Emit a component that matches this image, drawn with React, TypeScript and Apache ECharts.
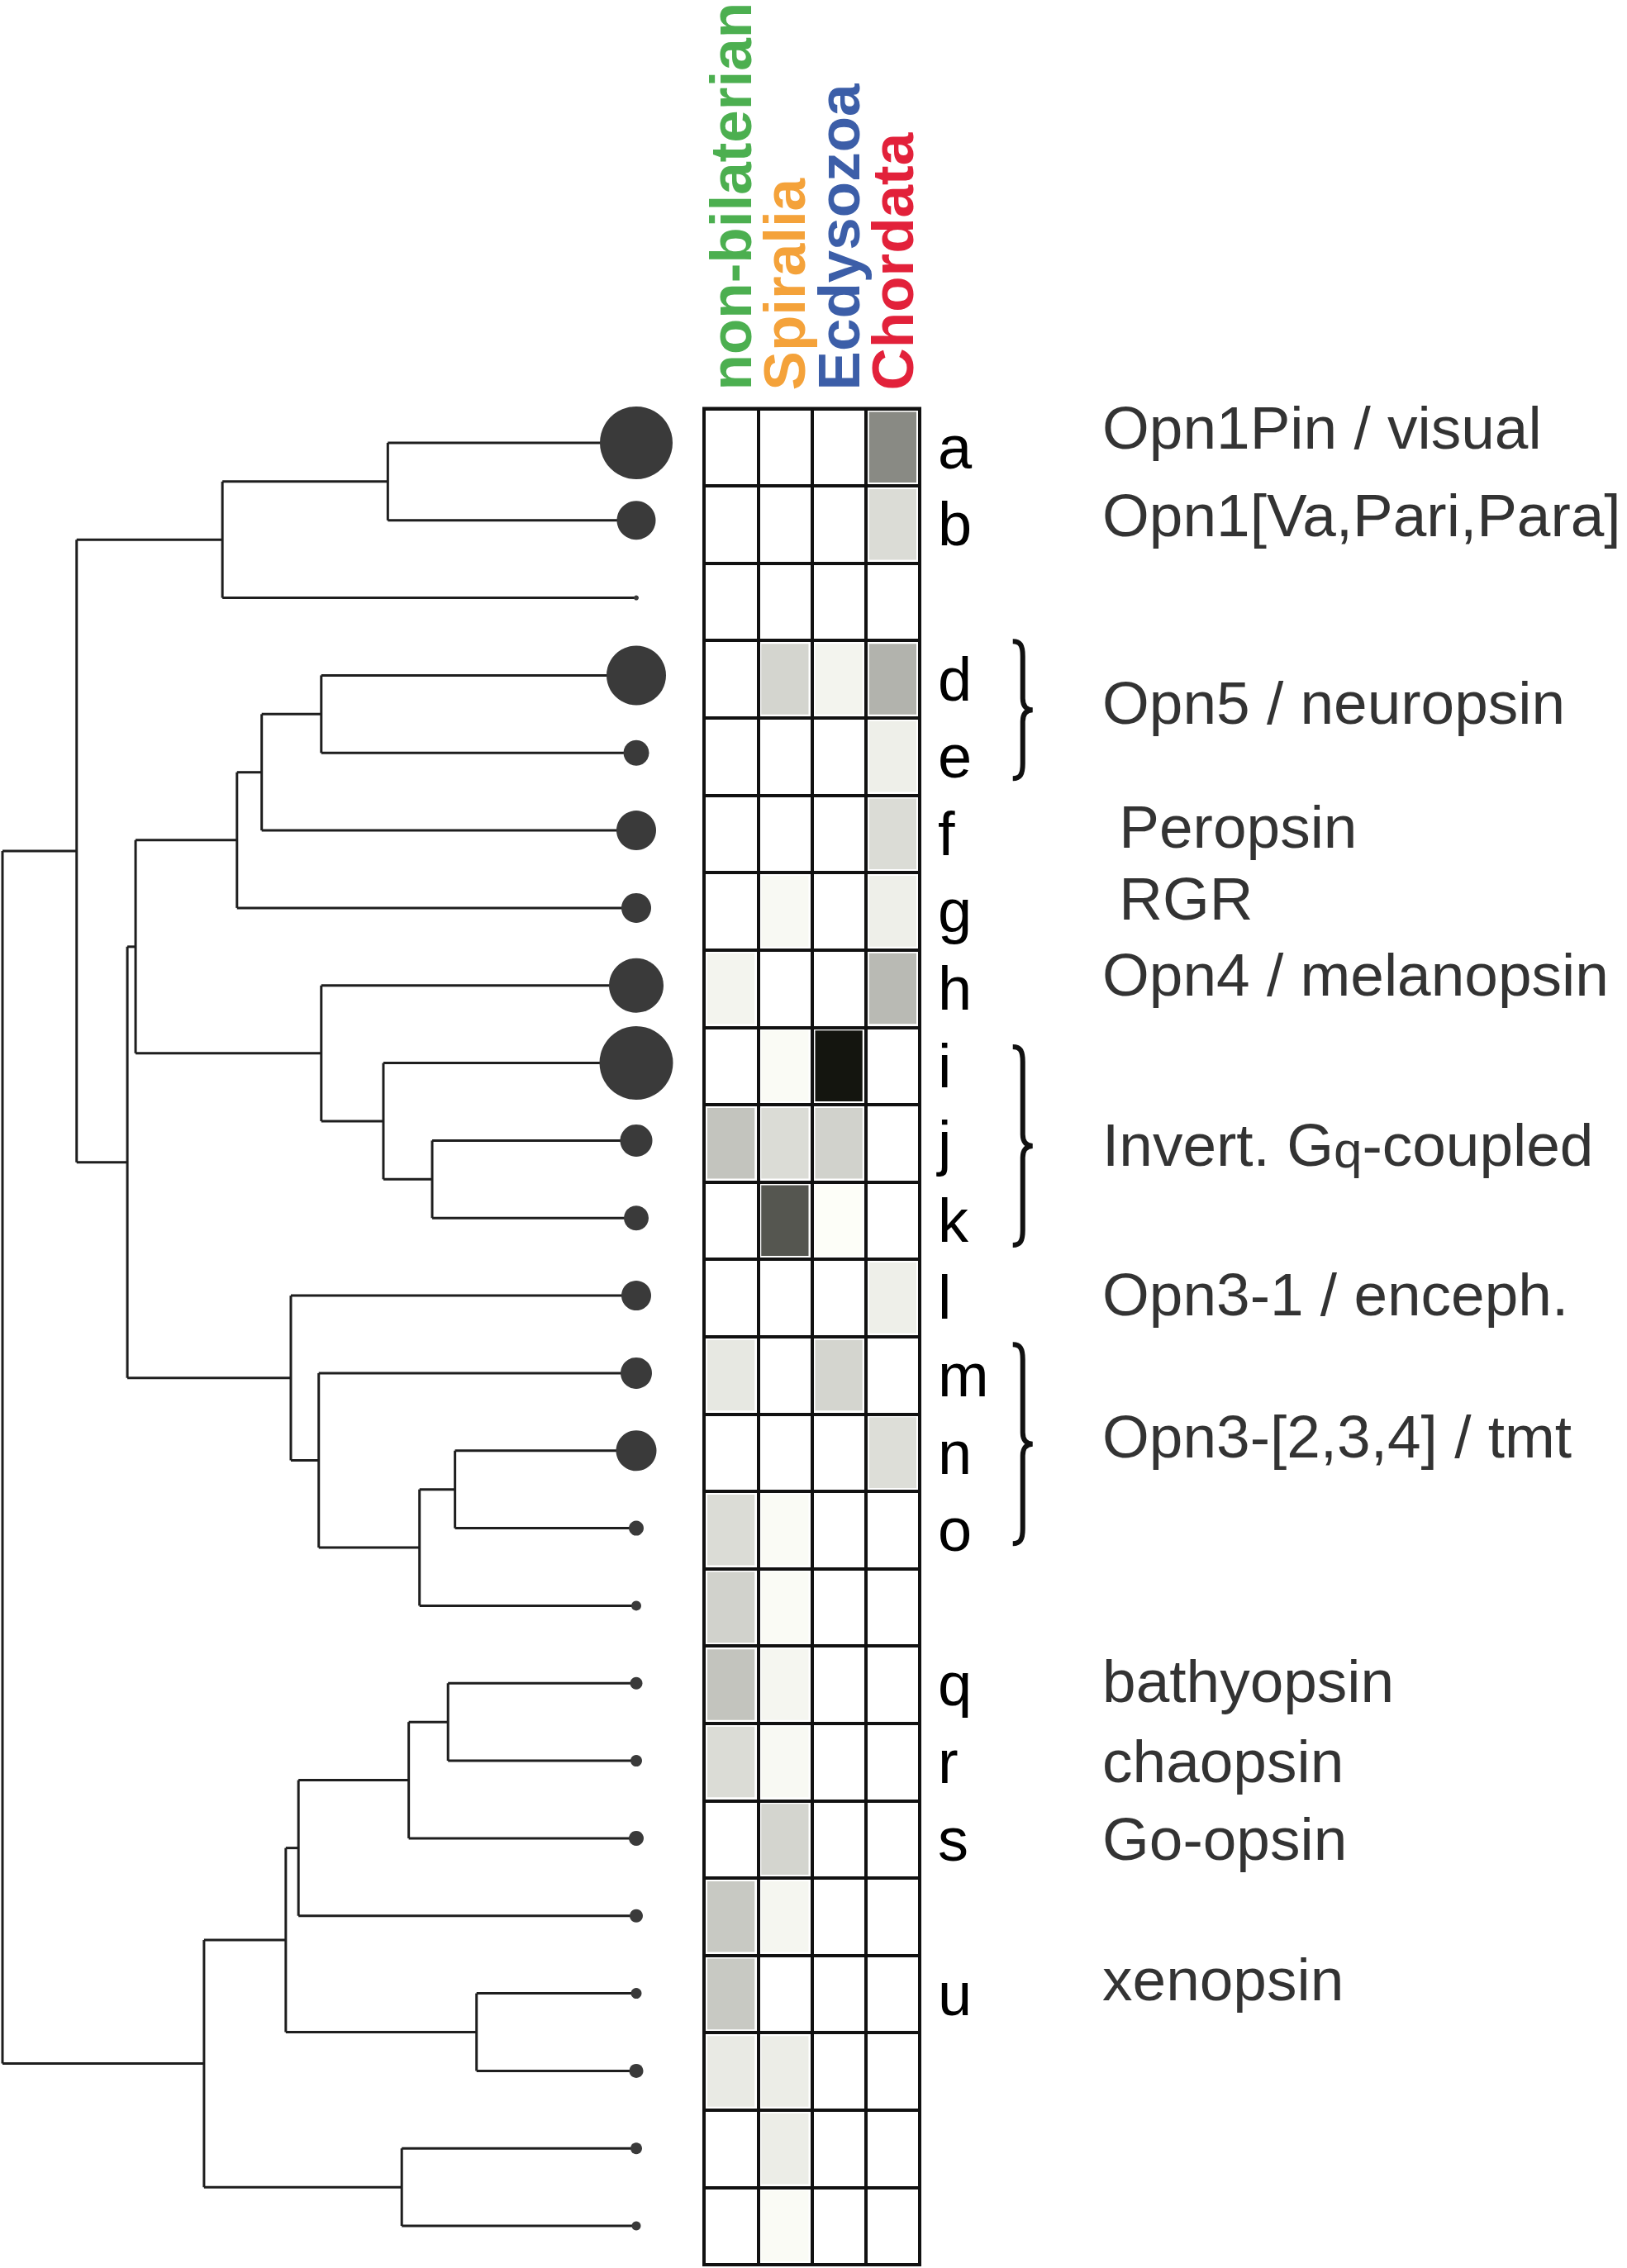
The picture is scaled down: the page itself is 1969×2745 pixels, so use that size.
import React, { useEffect, useRef } from 'react';
import * as echarts from 'echarts';

// ---- data ----
const taxa = ['non-bilaterian', 'Spiralia', 'Ecdysozoa', 'Chordata'];
const taxaColors = ['#4caf50', '#f4a23a', '#3c5ea8', '#e2213a'];
const leafIds = 'abcdefghijklmnopqrstuvwx'.split('');
const rowLetters = ['a', 'b', '', 'd', 'e', 'f', 'g', 'h', 'i', 'j', 'k', 'l', 'm', 'n', 'o', '', 'q', 'r', 's', '', 'u', '', '', ''];
const leafSizes = [88, 47, 6, 72, 31, 48, 36, 66, 89, 39, 30, 36, 38, 49, 18, 12, 15, 14, 18, 16, 13, 17, 14, 11];

// relative abundance per taxon (0 = white, 1 = black)
const nonBilaterian = [0, 0, 0, 0, 0, 0, 0, 0.05, 0, 0.25, 0, 0, 0.1, 0, 0.15, 0.19, 0.25, 0.15, 0, 0.23, 0.23, 0.09, 0, 0];
const spiralia = [0, 0, 0, 0.18, 0, 0, 0.03, 0, 0.02, 0.15, 0.71, 0, 0, 0, 0.02, 0.02, 0.04, 0.03, 0.18, 0.04, 0, 0.08, 0.08, 0.02];
const ecdysozoa = [0, 0, 0, 0.05, 0, 0, 0, 0, 0.98, 0.19, 0.01, 0, 0.18, 0, 0, 0, 0, 0, 0, 0, 0, 0, 0, 0];
const chordata = [0.49, 0.15, 0, 0.32, 0.07, 0.15, 0.07, 0.29, 0, 0, 0, 0.07, 0, 0.14, 0, 0, 0, 0, 0, 0, 0, 0, 0, 0];

// dendrogram internal nodes: [name, depth (0 root .. 100 leaves), children]
const treeNodes: [string, number, string[]][] = [
  ['root', 0, ['N1', 'N2']],
  ['N1', 11.7, ['ABC', 'NB']],
  ['ABC', 34.7, ['AB', 'c']],
  ['AB', 60.8, ['a', 'b']],
  ['NB', 19.7, ['DH', 'LP']],
  ['DH', 21.0, ['DG', 'HK']],
  ['DG', 37.0, ['DF', 'g']],
  ['DF', 40.9, ['DE', 'f']],
  ['DE', 50.3, ['d', 'e']],
  ['HK', 50.3, ['h', 'IK']],
  ['IK', 60.1, ['i', 'JK']],
  ['JK', 67.8, ['j', 'k']],
  ['LP', 45.5, ['l', 'MP']],
  ['MP', 49.9, ['m', 'NP']],
  ['NP', 65.8, ['NO', 'p']],
  ['NO', 71.4, ['n', 'o']],
  ['N2', 31.8, ['QV', 'WX']],
  ['QV', 44.7, ['QT', 'UV']],
  ['QT', 46.7, ['QS', 't']],
  ['QS', 64.1, ['QR', 's']],
  ['QR', 70.3, ['q', 'r']],
  ['UV', 74.8, ['u', 'v']],
  ['WX', 63.0, ['w', 'x']],
];

// clade annotations
const cladeNames = [
  'Opn1Pin / visual',
  'Opn1[Va,Pari,Para]',
  'Opn5 / neuropsin',
  ' Peropsin',
  ' RGR',
  'Opn4 / melanopsin',
  'Invert. G{sub|q}-coupled',
  'Opn3-1 / enceph.',
  'Opn3-[2,3,4] / tmt',
  'bathyopsin',
  'chaopsin',
  'Go-opsin',
  'xenopsin',
];
const cladeRows = [0.3, 1.43, 3.85, 5.45, 6.38, 7.36, 9.55, 11.48, 13.32, 16.47, 17.5, 18.51, 20.32];
const braceSpans = [
  [3.06, 4.83],
  [8.29, 10.85],
  [12.13, 14.7],
];

const FONT = "'Liberation Sans', Arial, Helvetica, sans-serif";

function buildTree() {
  const map = new Map<string, [string, number, string[]]>();
  treeNodes.forEach((n) => map.set(n[0], n));
  const cache = new Map<string, { d: number; y: number }>();
  const pos = (name: string): { d: number; y: number } => {
    if (cache.has(name)) return cache.get(name)!;
    let res;
    const node = map.get(name);
    if (!node) {
      res = { d: 100, y: leafIds.indexOf(name) + 0.5 };
    } else {
      const ch = node[2].map(pos);
      res = { d: node[1], y: (ch[0].y + ch[ch.length - 1].y) / 2 };
    }
    cache.set(name, res);
    return res;
  };
  const segs: { coords: number[][] }[] = [];
  treeNodes.forEach((n) => {
    const p = pos(n[0]);
    const ch = n[2].map(pos);
    segs.push({ coords: [[p.d, ch[0].y], [p.d, ch[ch.length - 1].y]] });
    ch.forEach((c) => segs.push({ coords: [[p.d, c.y], [c.d, c.y]] }));
  });
  return segs;
}

export default function App() {
  const ref = useRef<HTMLDivElement>(null);
  useEffect(() => {
    if (!ref.current) return;
    const chart = echarts.init(ref.current, undefined, { renderer: 'svg' });
    const TOP = 489;
    const H = 2252;
    const cols = [nonBilaterian, spiralia, ecdysozoa, chordata];
    const cells: number[][] = [];
    leafIds.forEach((_, r) => cols.forEach((col, c) => cells.push([c, r, col[r]])));

    chart.setOption({
      animation: false,
      backgroundColor: '#ffffff',
      grid: [
        { left: 3, top: TOP, width: 767, height: H },
        { left: 852, top: TOP, width: 261, height: H, show: true, borderColor: '#111', borderWidth: 4, backgroundColor: '#fff' },
        { left: 1222, top: TOP, width: 747, height: H },
      ],
      xAxis: [
        { gridIndex: 0, type: 'value', min: 0, max: 100, show: false },
        {
          gridIndex: 1,
          type: 'category',
          data: taxa,
          position: 'top',
          axisLine: { show: false },
          axisTick: { show: false },
          splitLine: { show: true, interval: 0, lineStyle: { color: '#111', width: 4 } },
          axisLabel: {
            rotate: -90,
            interval: 0,
            margin: 22,
            fontSize: 71,
            fontWeight: 'bold',
            fontFamily: FONT,
            padding: [0, 0, 18, 0],
            color: (_v: any, i: number) => taxaColors[i],
          },
        },
        { gridIndex: 2, type: 'value', min: 0, max: 100, show: false },
      ],
      yAxis: [
        { gridIndex: 0, type: 'value', min: 0, max: 24, inverse: true, show: false },
        {
          gridIndex: 1,
          type: 'category',
          data: rowLetters,
          inverse: true,
          position: 'right',
          axisLine: { show: false },
          axisTick: { show: false },
          splitLine: { show: true, interval: 0, lineStyle: { color: '#111', width: 4 } },
          axisLabel: { interval: 0, margin: 22, fontSize: 74, fontFamily: FONT, color: '#000' },
        },
        { gridIndex: 2, type: 'value', min: 0, max: 24, inverse: true, show: false },
      ],
      series: [
        {
          type: 'lines',
          coordinateSystem: 'cartesian2d',
          xAxisIndex: 0,
          yAxisIndex: 0,
          polyline: true,
          silent: true,
          lineStyle: { color: '#1e1e1e', width: 3, opacity: 1 },
          data: buildTree(),
        },
        {
          type: 'scatter',
          xAxisIndex: 0,
          yAxisIndex: 0,
          silent: true,
          symbol: 'circle',
          symbolSize: (v: number[]) => v[2],
          itemStyle: { color: '#3a3a3a', opacity: 1 },
          data: leafIds.map((_, i) => [100, i + 0.5, leafSizes[i]]),
          z: 3,
        },
        {
          type: 'custom',
          xAxisIndex: 1,
          yAxisIndex: 1,
          silent: true,
          data: cells,
          renderItem: (_p: any, api: any) => {
            const v = api.value(2);
            const pt = api.coord([api.value(0), api.value(1)]);
            const s = api.size([1, 1]);
            const inset = 4;
            const lvl = Math.round(255 - v * 240);
            const fill = v > 0 ? `rgb(${lvl},${Math.min(255, lvl + 1)},${Math.max(0, lvl - 5)})` : '#ffffff';
            return {
              type: 'rect',
              shape: { x: pt[0] - s[0] / 2 + inset, y: pt[1] - s[1] / 2 + inset, width: s[0] - 2 * inset, height: s[1] - 2 * inset },
              style: { fill },
            };
          },
        },
        {
          type: 'scatter',
          xAxisIndex: 2,
          yAxisIndex: 2,
          silent: true,
          symbolSize: 0,
          data: cladeNames.map((n, i) => ({ name: n, value: [15, cladeRows[i]] })),
          label: {
            show: true,
            position: 'right',
            distance: 0,
            formatter: '{b}',
            fontSize: 73,
            lineHeight: 74,
            fontFamily: FONT,
            color: '#000',
            rich: {
              sub: { fontSize: 62, lineHeight: 50, verticalAlign: 'bottom', fontFamily: FONT, color: '#000' },
            },
          },
        },
        {
          type: 'custom',
          xAxisIndex: 2,
          yAxisIndex: 2,
          silent: true,
          data: braceSpans.map((b) => [0.5, b[0], b[1]]),
          renderItem: (_p: any, api: any) => {
            const a = api.coord([api.value(0), api.value(1)]);
            const b = api.coord([api.value(0), api.value(2)]);
            const x0 = a[0];
            const y0 = a[1];
            const y1 = b[1];
            const ym = (y0 + y1) / 2;
            const w = 12;
            const tip = 24;
            const d = [
              `M${x0} ${y0}`,
              `C${x0 + 9} ${y0} ${x0 + w} ${y0 + 5} ${x0 + w} ${y0 + 18}`,
              `L${x0 + w} ${ym - 14}`,
              `C${x0 + w} ${ym - 4} ${x0 + w + 5} ${ym} ${x0 + tip} ${ym}`,
              `C${x0 + w + 5} ${ym} ${x0 + w} ${ym + 4} ${x0 + w} ${ym + 14}`,
              `L${x0 + w} ${y1 - 18}`,
              `C${x0 + w} ${y1 - 5} ${x0 + 9} ${y1} ${x0} ${y1}`,
            ].join(' ');
            return {
              type: 'path',
              shape: { pathData: d },
              style: { stroke: '#111', lineWidth: 6, fill: 'none' },
            };
          },
        },
      ],
    });
    return () => chart.dispose();
  }, []);
  return <div ref={ref} style={{ position: 'absolute', left: 0, top: 0, width: 1969, height: 2745, background: '#fff' }} />;
}
